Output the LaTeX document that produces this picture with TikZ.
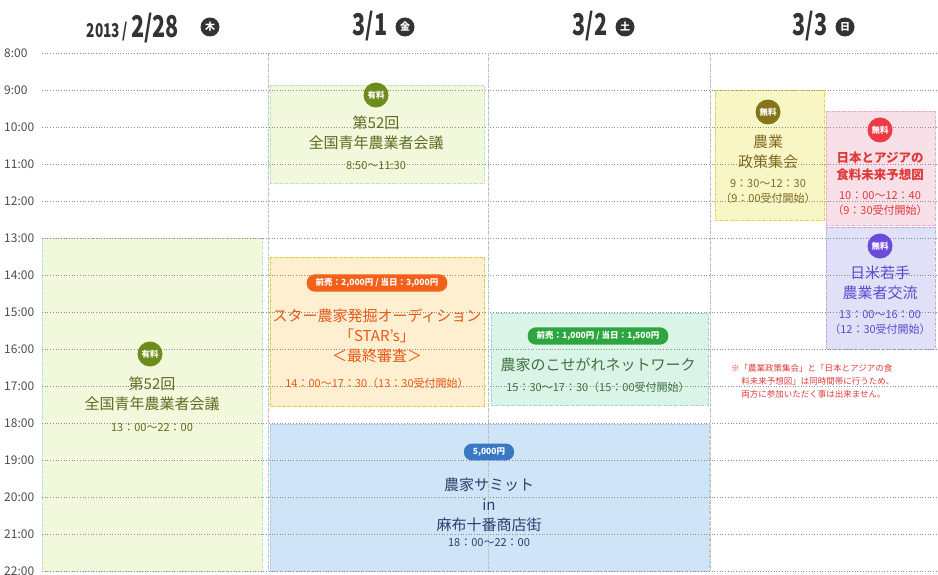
\documentclass[tikz,border=0pt]{standalone}
\usepackage{fontspec}
\setmainfont{Noto Sans CJK JP}
\newfontfamily\cjkb[FontFace={b}{n}{Noto Sans CJK JP:style=Bold}]{Noto Sans CJK JP}
\definecolor{gfill}{HTML}{F1F8DC}\definecolor{gline}{HTML}{B7E3C6}
\definecolor{gtext}{HTML}{5E6B22}\definecolor{gbadge}{HTML}{6E8C1C}
\definecolor{ofill}{HTML}{FDEFD0}\definecolor{oline}{HTML}{D8D040}
\definecolor{otext}{HTML}{E8581A}\definecolor{opill}{HTML}{F26019}
\definecolor{nfill}{HTML}{DBF4E8}\definecolor{nline}{HTML}{9ED8D0}
\definecolor{ntext}{HTML}{3F7040}\definecolor{npill}{HTML}{2DA642}
\definecolor{bfill}{HTML}{CFE5F7}\definecolor{bline}{HTML}{A8CCEE}
\definecolor{btext}{HTML}{2E3E6A}\definecolor{bpill}{HTML}{3A78C4}
\definecolor{yfill}{HTML}{F8F6C4}\definecolor{yline}{HTML}{DCD64A}
\definecolor{ytext}{HTML}{7E6A22}\definecolor{ybadge}{HTML}{85741A}
\definecolor{rfill}{HTML}{F7E0E8}\definecolor{rline}{HTML}{F2A8C0}
\definecolor{rtext}{HTML}{E03A3A}\definecolor{rbadge}{HTML}{EE3A45}
\definecolor{vfill}{HTML}{E0E0F6}\definecolor{vline}{HTML}{B4ACEC}
\definecolor{vtext}{HTML}{5A4ACF}\definecolor{vbadge}{HTML}{6A4CDC}
\begin{document}
\begin{tikzpicture}[x=1pt,y=-1pt,
  blk/.style={draw=#1,densely dashdotted,line width=0.8pt},
  hr/.style={font=\fontsize{12}{12}\selectfont,text=black!70,anchor=west,inner sep=0},
  grid/.style={black!45,dotted,line width=0.7pt},
  pill/.style={rounded corners=8pt,fill=#1,text=white,font=\cjkb\bfseries\fontsize{8.5}{8.5}\selectfont,inner xsep=9pt,inner ysep=4pt},
  badge/.style={circle,fill=#1,text=white,font=\cjkb\bfseries\fontsize{8.5}{8.5}\selectfont,inner sep=1pt,minimum size=25pt},
  ttl/.style={align=center,font=\fontsize{15}{20}\selectfont,text=#1},
  tm/.style={align=center,font=\fontsize{11}{15}\selectfont,text=#1},
  hd/.style={font=\cjkb\bfseries\fontsize{30}{30}\selectfont,text=black!80,inner sep=0,xscale=0.72},
  day/.style={circle,fill=black!80,text=white,font=\cjkb\bfseries\fontsize{10}{10}\selectfont,inner sep=1pt,minimum size=19pt}
]
\useasboundingbox (0,0) rectangle (938,575);
% blocks
\fill[gfill] (270,85) rectangle (484,183);
\draw[blk=gline] (270,85) rectangle (484,183);
\fill[gfill] (42,238) rectangle (262,571);
\draw[blk=gline] (42,238) rectangle (262,571);
\fill[ofill] (270,257) rectangle (484,406);
\draw[blk=oline] (270,257) rectangle (484,406);
\fill[nfill] (491,313) rectangle (708,405);
\draw[blk=nline] (491,313) rectangle (708,405);
\fill[bfill] (270,424) rectangle (709,571);
\draw[blk=bline] (270,424) rectangle (709,571);
\fill[yfill] (715,90) rectangle (824,220);
\draw[blk=yline] (715,90) rectangle (824,220);
\fill[rfill] (826,111) rectangle (935,225);
\draw[blk=rline] (826,111) rectangle (935,225);
\fill[vfill] (826,227) rectangle (935,349);
\draw[blk=vline] (826,227) rectangle (935,349);
% grid
\foreach \h [count=\i from 0] in {8,...,22} {
  \node[hr] (h\h) at (4,{53+37*\i}) {\h:00};
  \draw[grid] (42,{53+37*\i}) -- (938,{53+37*\i});
}
\foreach \x in {268,488,710} \draw[black!25,densely dashdotted] (\x,53) -- (\x,571);
% headers
\node[hd,anchor=base east] (y28) at (128,38) {\fontsize{19}{19}\selectfont 2013\,/};
\node[hd,anchor=base west] (d28) at (131,38) {2/28};
\node[day] (w28) at (210,27) {木};
\node[hd] (d1) at (370,26) {3/1};
\node[day] (w1) at (405,27) {金};
\node[hd] (d2) at (590,26) {3/2};
\node[day] (w2) at (625,27) {土};
\node[hd] (d3) at (810,26) {3/3};
\node[day] (w3) at (845,27) {日};
% block texts
\node[badge=gbadge] (b1) at (376,95) {有料};
\node[ttl=gtext] (t1) at (376,133) {第52回\\全国青年農業者会議};
\node[tm=gtext] (m1) at (376,166) {8:50〜11:30};
\node[badge=gbadge] (b2) at (150,354) {有料};
\node[ttl=gtext] (t2) at (152,394) {第52回\\全国青年農業者会議};
\node[tm=gtext] (m2) at (152,428) {13：00〜22：00};
\node[pill=opill] (p3) at (377,283) {前売：2,000円 / 当日：3,000円};
\node[ttl=otext] (t3) at (377,336) {スター農家発掘オーディション\\「STAR's」\\＜最終審査＞};
\node[tm=otext] (m3) at (377,383) {14：00〜17：30（13：30受付開始）};
\node[pill=npill] (p4) at (598,336) {前売：1,000円 / 当日：1,500円};
\node[ttl=ntext] (t4) at (598,365) {農家のこせがれネットワーク};
\node[tm=ntext] (m4) at (598,387) {15：30〜17：30（15：00受付開始）};
\node[pill=bpill] (p5) at (489,452) {5,000円};
\node[ttl=btext] (t5) at (489,505) {農家サミット\\in\\麻布十番商店街};
\node[tm=btext] (m5) at (489,543) {18：00〜22：00};
\node[badge=ybadge] (b6) at (768,112) {無料};
\node[ttl=ytext] (t6) at (768,152) {農業\\政策集会};
\node[tm=ytext] (m6) at (768,192) {9：30〜12：30\\（9：00受付開始）};
\node[badge=rbadge] (b7) at (880,130) {無料};
\node[ttl=rtext,font=\cjkb\bfseries\fontsize{12.5}{17}\selectfont] (t7) at (880,166) {日本とアジアの\\食料未来予想図};
\node[tm=rtext] (m7) at (880,204) {10：00〜12：40\\（9：30受付開始）};
\node[badge=vbadge] (b8) at (880,246) {無料};
\node[ttl=vtext] (t8) at (880,283) {日米若手\\農業者交流};
\node[tm=vtext] (m8) at (880,323) {13：00〜16：00\\（12：30受付開始）};
\node[align=left,anchor=north west,text=rtext,font=\fontsize{8.5}{13}\selectfont,inner sep=0] (note) at (731,364)
 {※「農業政策集会」と「日本とアジアの食\\\hspace*{1.2em}料未来予想図」は同時間帯に行うため、\\\hspace*{1.2em}両方に参加いただく事は出来ません。};
\end{tikzpicture}
\end{document}
